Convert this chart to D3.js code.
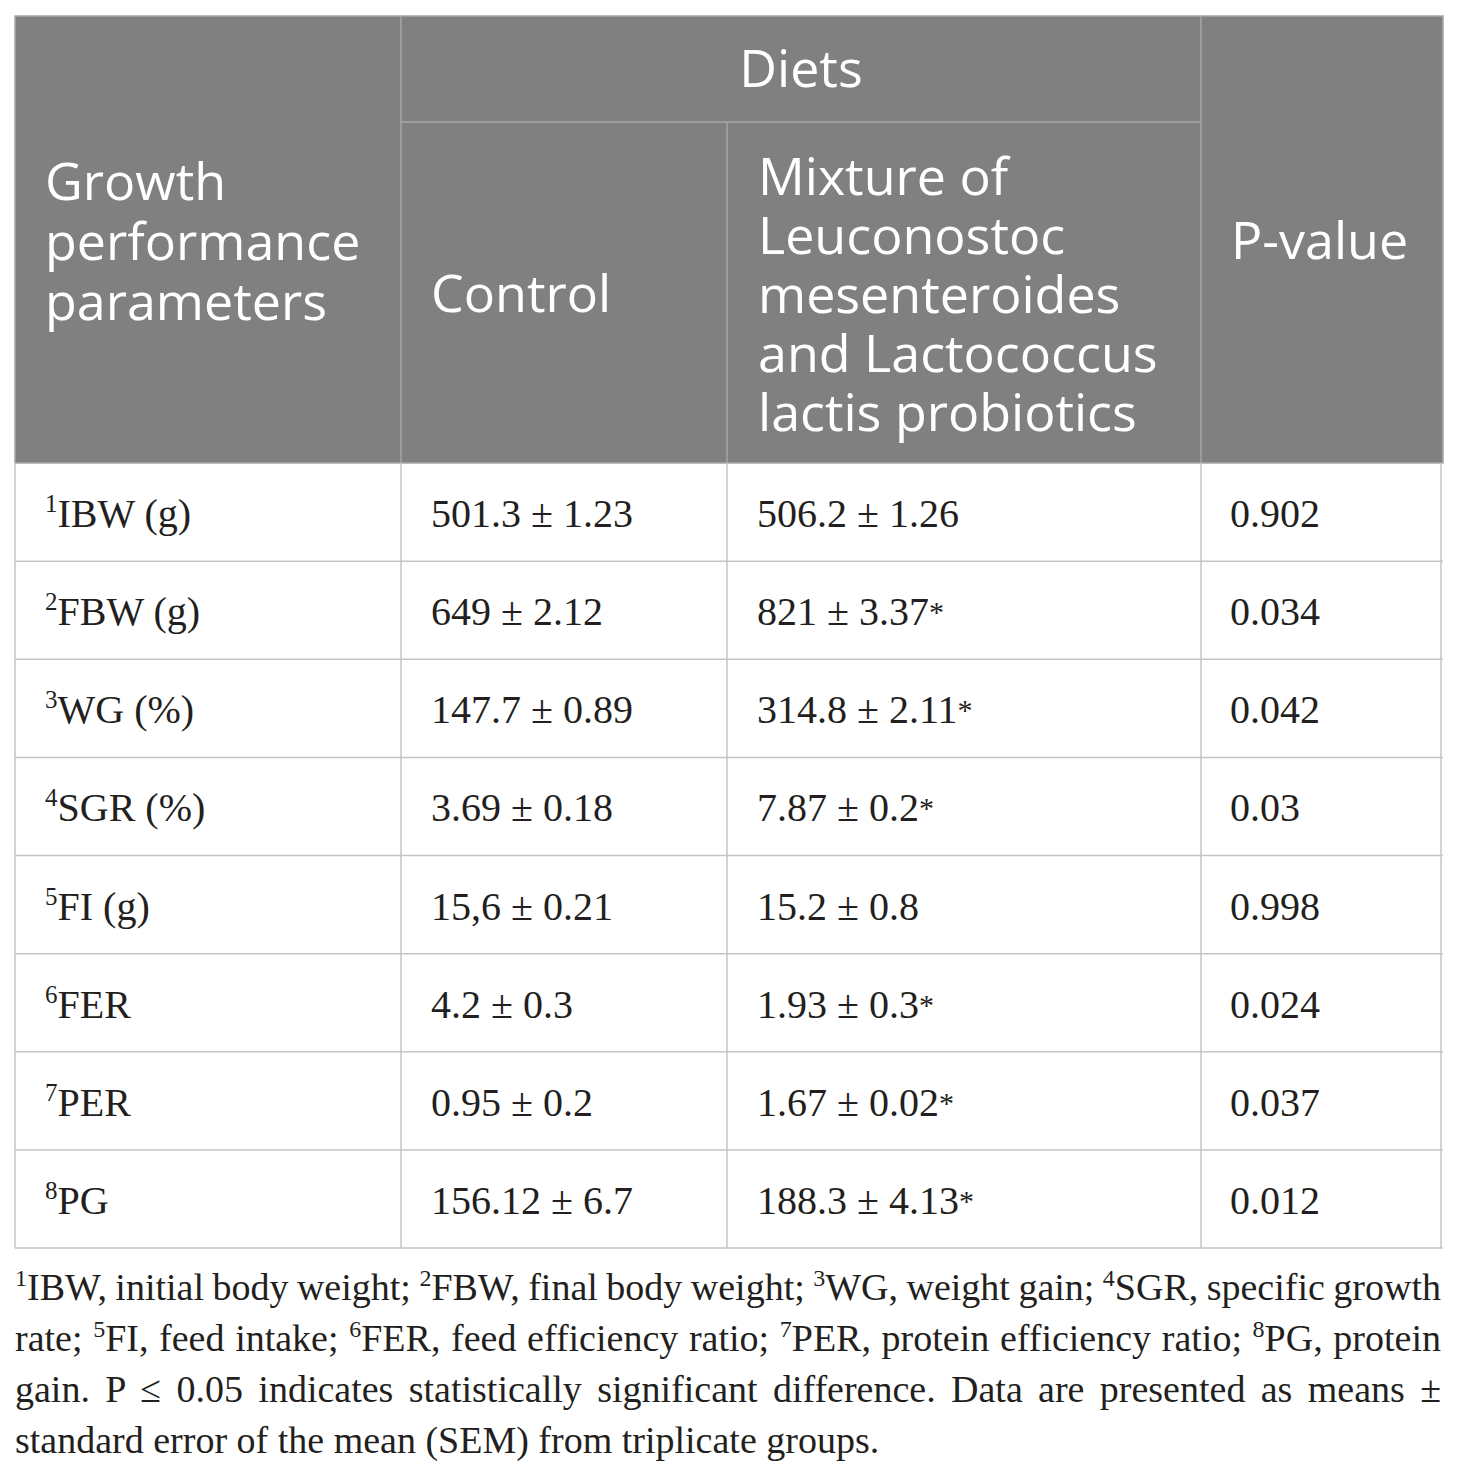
<!DOCTYPE html>
<html>
<head>
<meta charset="utf-8">
<script src="https://cdn.jsdelivr.net/npm/d3@7"></script>
<style>
  body { margin: 0; background: #fff; }
  #wrap { position: relative; width: 1460px; height: 1475px; }
  #note {
    position: absolute; left: 15px; top: 1262px; width: 1426px;
    font-family: "Liberation Serif", "Times New Roman", serif;
    font-size: 38px; line-height: 51px; color: #231f20;
  }
  #note div { text-align: justify; text-align-last: justify; white-space: nowrap; word-spacing: -3px; }
  #note div.last { text-align-last: left; word-spacing: 0; }
  #note sup { font-size: 24px; vertical-align: 14px; line-height: 0; }
  .hblock {
    position: absolute; color: #fff; white-space: nowrap;
    font-family: "Open Sans", Lato, sans-serif; font-size: 52px;
  }
</style>
</head>
<body>
<div id="wrap"><div id="note"></div></div>
<script>
const abbrev = ["IBW", "FBW", "WG", "SGR", "FI", "FER", "PER", "PG"];
const units = [" (g)", " (g)", " (%)", " (%)", " (g)", "", "", ""];
const controlMean = ["501.3", "649", "147.7", "3.69", "15,6", "4.2", "0.95", "156.12"];
const controlSem = ["1.23", "2.12", "0.89", "0.18", "0.21", "0.3", "0.2", "6.7"];
const mixMean = ["506.2", "821", "314.8", "7.87", "15.2", "1.93", "1.67", "188.3"];
const mixSem = ["1.26", "3.37", "2.11", "0.2", "0.8", "0.3", "0.02", "4.13"];
const signif = [false, true, true, true, false, true, true, true];
const pValues = ["0.902", "0.034", "0.042", "0.03", "0.998", "0.024", "0.037", "0.012"];

const headParam = ["Growth", "performance", "parameters"];
const headMix = ["Mixture of", "Leuconostoc", "mesenteroides", "and Lactococcus", "lactis probiotics"];

const W = 1460, H = 1475;
const headFill = "#808080", gridCol = "#c4c4c4", headLine = "#a6a6a6", ink = "#231f20";

const svg = d3.select("#wrap").insert("svg", "#note")
  .attr("width", W).attr("height", H)
  .style("position", "absolute").style("left", 0).style("top", 0);

// column edges
const colKeys = ["param", "control", "mix", "p"];
const colLeft = d3.scaleOrdinal().domain(colKeys).range([15, 401, 727, 1201]);
const tableTop = 16, dietsBottom = 122, headBottom = 463, tableBottom = 1248;

const rowY = d3.scaleBand().domain(d3.range(abbrev.length)).range([headBottom, tableBottom]);

// header background
svg.append("rect").attr("x", 15).attr("y", tableTop)
  .attr("width", 1443 - 15).attr("height", headBottom - tableTop)
  .attr("fill", headFill);

// header internal lines
const hl = svg.append("g").attr("stroke", headLine).attr("stroke-width", 1.5);
hl.append("line").attr("x1", colLeft("control")).attr("x2", colLeft("control"))
  .attr("y1", tableTop).attr("y2", headBottom);
hl.append("line").attr("x1", colLeft("mix")).attr("x2", colLeft("mix"))
  .attr("y1", dietsBottom).attr("y2", headBottom);
hl.append("line").attr("x1", colLeft("p")).attr("x2", colLeft("p"))
  .attr("y1", tableTop).attr("y2", headBottom);
hl.append("line").attr("x1", colLeft("control")).attr("x2", colLeft("p"))
  .attr("y1", dietsBottom).attr("y2", dietsBottom);
hl.append("rect").attr("x", 15).attr("y", tableTop).attr("width", 1443 - 15)
  .attr("height", headBottom - tableTop).attr("fill", "none");

// header text (single line labels in svg)
const ht = svg.append("g").attr("fill", "#fff")
  .attr("font-family", "'Open Sans', Lato, sans-serif").attr("font-size", 52);
ht.append("text").attr("x", 431).attr("y", 312).text("Control");
ht.append("text").attr("x", (colLeft("control") + colLeft("p")) / 2).attr("y", 87)
  .attr("text-anchor", "middle").text("Diets");
ht.append("text").attr("x", 1231).attr("y", 259).text("P-value");

// wrapped header labels as html blocks, tight line spacing like the original
function block(x, top, lines, lh) {
  d3.select("#wrap").append("div").attr("class", "hblock")
    .style("left", x + "px").style("top", top + "px").style("line-height", lh + "px")
    .html(lines.join("<br>"));
}
block(45, 150, headParam, 60);
block(758, 145, headMix, 59);

// body grid
const grid = svg.append("g").attr("stroke", gridCol).attr("stroke-width", 1.5);
grid.selectAll("line.h").data(d3.range(abbrev.length)).join("line").attr("class", "h")
  .attr("x1", 15).attr("x2", 1443)
  .attr("y1", i => rowY(i) + rowY.bandwidth()).attr("y2", i => rowY(i) + rowY.bandwidth());
grid.selectAll("line.v").data([15, ...colKeys.slice(1).map(colLeft), 1441]).join("line").attr("class", "v")
  .attr("x1", d => d).attr("x2", d => d).attr("y1", headBottom).attr("y2", tableBottom);

// body text
const body = svg.append("g").attr("fill", ink)
  .attr("font-family", "'Liberation Serif', 'Times New Roman', serif").attr("font-size", 40);

const rows = body.selectAll("g.row").data(d3.range(abbrev.length)).join("g").attr("class", "row")
  .attr("transform", i => `translate(0,${rowY(i) + 64})`);

const lab = rows.append("text").attr("x", 45);
lab.append("tspan").attr("font-size", 25).attr("dy", -15).text(i => i + 1);
lab.append("tspan").attr("dy", 15).text(i => abbrev[i] + units[i]);

rows.append("text").attr("x", 431).text(i => `${controlMean[i]} ± ${controlSem[i]}`);
const mixText = rows.append("text").attr("x", 757);
mixText.append("tspan").text(i => `${mixMean[i]} ± ${mixSem[i]}`);
mixText.filter(i => signif[i]).append("tspan")
  .attr("font-size", 30).attr("dy", -3).text("*");
rows.append("text").attr("x", 1230).text(i => pValues[i]);

// footnote
const defs = ["initial body weight", "final body weight", "weight gain", "specific growth rate",
  "feed intake", "feed efficiency ratio", "protein efficiency ratio", "protein gain"];
const fn = i => `<sup>${i + 1}</sup>${abbrev[i]}, `;
const lines = [
  `${fn(0)}${defs[0]}; ${fn(1)}${defs[1]}; ${fn(2)}${defs[2]}; ${fn(3)}specific growth`,
  `rate; ${fn(4)}${defs[4]}; ${fn(5)}${defs[5]}; ${fn(6)}${defs[6]}; ${fn(7)}protein`,
  `gain. P ≤ 0.05 indicates statistically significant difference. Data are presented as means ±`,
  `standard error of the mean (SEM) from triplicate groups.`
];
d3.select("#note").selectAll("div").data(lines).join("div")
  .classed("last", (d, i) => i === lines.length - 1)
  .html(d => d);
</script>
</body>
</html>
